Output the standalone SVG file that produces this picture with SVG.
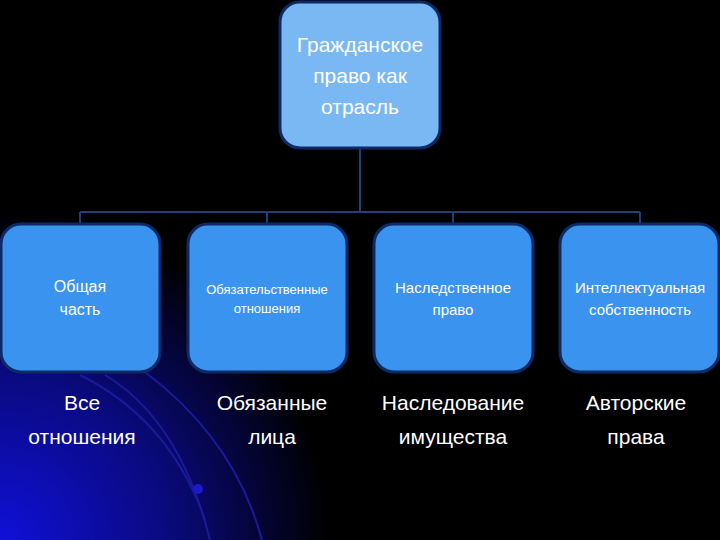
<svg xmlns="http://www.w3.org/2000/svg" width="720" height="540" viewBox="0 0 720 540">
<style>
.t{font-family:"Liberation Sans",Arial,sans-serif;fill:#fff;text-anchor:middle}
.b{fill:#3a93ef;stroke:#0d2a66;stroke-width:3}
.c{fill:none;stroke:#1e3f78;stroke-width:2}
.arc{fill:none;stroke:#1a1a9a;stroke-width:2}
</style>
<defs>
<radialGradient id="bg" cx="0" cy="540" r="330" gradientUnits="userSpaceOnUse">
<stop offset="0" stop-color="#1010d8"/><stop offset="0.5" stop-color="#0a0a80"/><stop offset="1" stop-color="#000"/>
</radialGradient>
</defs>
<rect width="720" height="540" fill="#000"/>
<rect width="720" height="540" fill="url(#bg)"/>
<path class="arc" d="M80 375 Q170 420 205 520"/>
<path class="arc" d="M105 375 Q180 420 210 540"/>
<path class="arc" d="M145 372 Q235 440 262 540"/>
<circle cx="198" cy="489" r="5" fill="#1a1acc"/>
<g id="connectors">
<path class="c" d="M360 148V212M80 212H640M80 212V224M267 212V224M453 212V224M640 212V224"/>
</g>
<g id="root"><rect x="280" y="2" width="160" height="146" rx="20" fill="#7ab8f4" stroke="#0d2a66" stroke-width="3"/>
<text class="t" font-size="21"><tspan x="360" y="52">Гражданское</tspan><tspan x="360" y="83">право как</tspan><tspan x="360" y="114">отрасль</tspan></text></g>
<g id="n1"><rect class="b" x="1" y="224" width="159" height="148" rx="20"/>
<text class="t" font-size="16"><tspan x="80" y="292">Общая</tspan><tspan x="80" y="315">часть</tspan></text></g>
<g id="n2"><rect class="b" x="188" y="224" width="159" height="148" rx="20"/>
<text class="t" font-size="13"><tspan x="267" y="294">Обязательственные</tspan><tspan x="267" y="313">отношения</tspan></text></g>
<g id="n3"><rect class="b" x="374" y="224" width="159" height="148" rx="20"/>
<text class="t" font-size="15"><tspan x="453" y="293">Наследственное</tspan><tspan x="453" y="315">право</tspan></text></g>
<g id="n4"><rect class="b" x="560" y="224" width="159" height="148" rx="20"/>
<text class="t" font-size="15"><tspan x="640" y="293">Интеллектуальная</tspan><tspan x="640" y="315">собственность</tspan></text></g>
<g id="l1"><text class="t" font-size="21"><tspan x="82" y="410">Все</tspan><tspan x="82" y="444">отношения</tspan></text></g>
<g id="l2"><text class="t" font-size="21"><tspan x="272" y="410">Обязанные</tspan><tspan x="272" y="444">лица</tspan></text></g>
<g id="l3"><text class="t" font-size="21"><tspan x="453" y="410">Наследование</tspan><tspan x="453" y="444">имущества</tspan></text></g>
<g id="l4"><text class="t" font-size="21"><tspan x="636" y="410">Авторские</tspan><tspan x="636" y="444">права</tspan></text></g>
</svg>
